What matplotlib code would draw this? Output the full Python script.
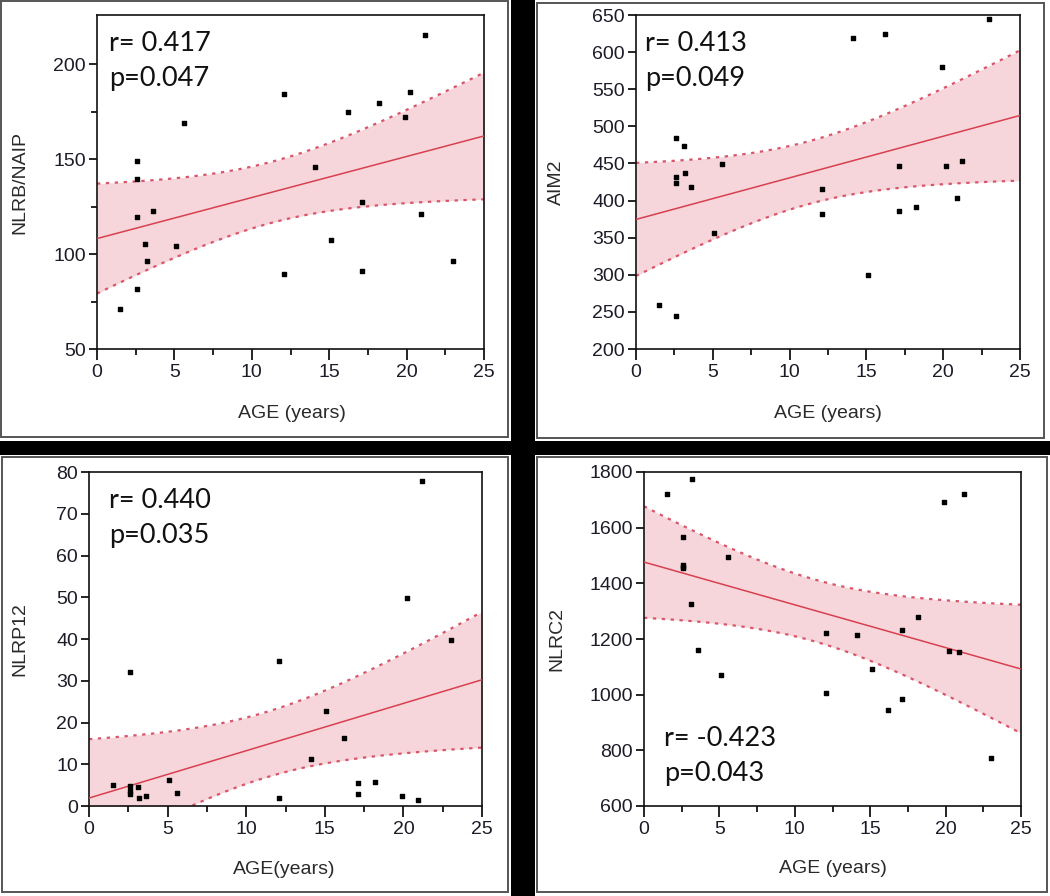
import numpy as np
import matplotlib
matplotlib.use("Agg")
import matplotlib.pyplot as plt
from matplotlib.patches import Rectangle

# ---------------- data ----------------
AGE = [1.5, 2.6, 2.6, 2.6, 2.6, 3.1, 3.2, 3.6, 5.1, 5.6, 12.1, 12.1, 14.1,
       15.1, 16.2, 17.1, 17.1, 18.2, 19.9, 20.2, 20.9, 21.2, 23.0]

NLRB_NAIP = [71.2, 81.8, 119.7, 139.5, 149.2, 105.4, 96.2, 122.7, 104.2, 169.0,
             184.5, 89.7, 145.7, 107.2, 174.8, 127.7, 91.3, 179.7, 172.1, 185.5,
             121.0, 215.7, 96.2]
AIM2 = [258.7, 243.8, 424.3, 432.0, 484.4, 474.0, 437.0, 418.9, 356.6, 448.7,
        416.2, 381.5, 619.4, 299.3, 624.3, 446.5, 386.0, 390.9, 579.6, 446.5,
        403.6, 453.7, 644.6]
NLRP12 = [4.97, 32.0, 4.8, 3.6, 2.8, 4.6, 1.8, 2.3, 6.25, 3.2,
          34.7, 1.8, 11.2, 22.7, 16.2, 5.4, 2.8, 5.85, 2.3, 49.9,
          1.5, 77.8, 39.7]
NLRC2 = [1720, 1567, 1466, 1456, 1460, 1326, 1775, 1160, 1072, 1494,
         1220, 1006, 1214, 1091, 945, 1234, 986, 1280, 1694, 1158,
         1152, 1720, 771]

Y_LABELS = ["NLRB/NAIP", "AIM2", "NLRP12", "NLRC2"]
X_LABELS = ["AGE (years)", "AGE (years)", "AGE(years)", "AGE (years)"]
STATS = [("r= 0.417", "p=0.047"), ("r= 0.413", "p=0.049"),
         ("r= 0.440", "p=0.035"), ("r= -0.423", "p=0.043")]
Y_LIMS = [(50, 226), (200, 650), (0, 80), (600, 1800)]
Y_TICKS = [[50, 100, 150, 200], list(range(200, 651, 50)),
           list(range(0, 81, 10)), list(range(600, 1801, 200))]
Y_MINOR = [[75, 125, 175], [], [], []]
X_TICKS = [0, 5, 10, 15, 20, 25]
X_MINOR = [2.5, 7.5, 12.5, 17.5, 22.5]

# ---------------- layout (pixels) ----------------
W, H = 1050, 896
fig = plt.figure(figsize=(W / 100, H / 100), dpi=100)
fig.patch.set_facecolor("white")

def fx(px):
    return px / W

def fy(py):
    return 1 - py / H

# black separating bands
fig.add_artist(Rectangle((fx(511), 0), fx(535) - fx(511), 1, transform=fig.transFigure,
                         facecolor="black", edgecolor="none", zorder=0))
fig.add_artist(Rectangle((0, fy(455)), 1, fy(441) - fy(455), transform=fig.transFigure,
                         facecolor="black", edgecolor="none", zorder=0))
# thin grey panel frames
for (l, t, r, b) in [(1, 1, 508, 437), (537, 3, 1044, 438),
                     (2, 457, 508, 892), (537, 457, 1047, 892)]:
    fig.add_artist(Rectangle((fx(l), fy(b)), fx(r) - fx(l), fy(t) - fy(b),
                             transform=fig.transFigure, facecolor="none",
                             edgecolor="#555555", lw=1.4, zorder=1))

# axes boxes: left, top, right, bottom (pixels)
BOXES = [(97, 15, 484, 349), (636, 15, 1020, 349),
         (89, 472, 482, 806), (644, 472, 1021, 806)]
XLAB_POS = [(292, 413), (828, 413), (284, 869), (833, 868)]
YLAB_POS = [(20, 182), (556, 182), (20, 639), (557, 639)]
TXT_POS = [(109, 51), (645, 51), (109, 508), (664, 746)]

TICK_FONT = ["Liberation Sans Narrow", "Liberation Sans", "DejaVu Sans"]
STAT_FONT = ["Lato", "DejaVu Sans"]
LINE_C = "#d8404f"
FILL_C = "#f6d6db"
EDGE_C = "#d9566a"
T_CRIT = 2.080  # t(0.975, df=21)

SERIES = [NLRB_NAIP, AIM2, NLRP12, NLRC2]
x = np.array(AGE, dtype=float)
for i in range(4):
    y = np.array(SERIES[i], dtype=float)
    l, t, r, b = BOXES[i]
    ax = fig.add_axes([fx(l), fy(b), fx(r) - fx(l), fy(t) - fy(b)])
    ax.set_xlim(0, 25)
    ax.set_ylim(*Y_LIMS[i])

    # least squares fit and 95% confidence band of the mean
    n = len(x)
    slope, inter = np.polyfit(x, y, 1)
    resid = y - (inter + slope * x)
    s = np.sqrt(np.sum(resid ** 2) / (n - 2))
    sxx = np.sum((x - x.mean()) ** 2)
    xg = np.linspace(0, 25, 200)
    yg = inter + slope * xg
    half = T_CRIT * s * np.sqrt(1 / n + (xg - x.mean()) ** 2 / sxx)
    ax.fill_between(xg, yg - half, yg + half, color=FILL_C, lw=0, zorder=1)
    ax.plot(xg, yg + half, color=EDGE_C, lw=1.6, ls=(0, (1.5, 2.5)), zorder=2)
    ax.plot(xg, yg - half, color=EDGE_C, lw=1.6, ls=(0, (1.5, 2.5)), zorder=2)
    ax.plot(xg, yg, color=LINE_C, lw=1.1, zorder=3)

    ax.scatter(x, y, marker="s", s=10, color="black", zorder=4, clip_on=False)

    for sp in ax.spines.values():
        sp.set_linewidth(1.2)
        sp.set_color("#111111")
    ax.set_xticks(X_TICKS)
    ax.set_xticks(X_MINOR, minor=True)
    ax.set_yticks(Y_TICKS[i])
    ax.set_yticks(Y_MINOR[i], minor=True)
    ax.tick_params(axis="x", which="major", direction="out", length=8, width=1.2,
                   pad=3, labelsize=14, labelcolor="#1c1c28")
    ax.tick_params(axis="x", which="minor", direction="out", length=4, width=1.2)
    ax.tick_params(axis="y", which="major", direction="out", length=6, width=1.2,
                   pad=2, labelsize=14, labelcolor="#1c1c28")
    ax.tick_params(axis="y", which="minor", direction="out", length=4, width=1.2)
    for lab in ax.get_xticklabels() + ax.get_yticklabels():
        lab.set_family(TICK_FONT)

    ax.set_xlabel(X_LABELS[i], fontsize=14, family=TICK_FONT, color="#2a2a2a")
    ax.set_ylabel(Y_LABELS[i], fontsize=14, family=TICK_FONT, color="#2a2a2a")
    ax.xaxis.set_label_coords(fx(XLAB_POS[i][0]), fy(XLAB_POS[i][1]), transform=fig.transFigure)
    ax.yaxis.set_label_coords(fx(YLAB_POS[i][0]), fy(YLAB_POS[i][1]), transform=fig.transFigure)
    ax.xaxis.label.set_verticalalignment("center")
    ax.yaxis.label.set_verticalalignment("center")

    tx, ty = TXT_POS[i]
    fig.text(fx(tx), fy(ty), STATS[i][0], fontsize=19.5, family=STAT_FONT,
             color="#111111", va="baseline", ha="left")
    fig.text(fx(tx), fy(ty + 35), STATS[i][1], fontsize=19.5, family=STAT_FONT,
             color="#111111", va="baseline", ha="left")

fig.savefig("out.png", dpi=100, facecolor="white")
